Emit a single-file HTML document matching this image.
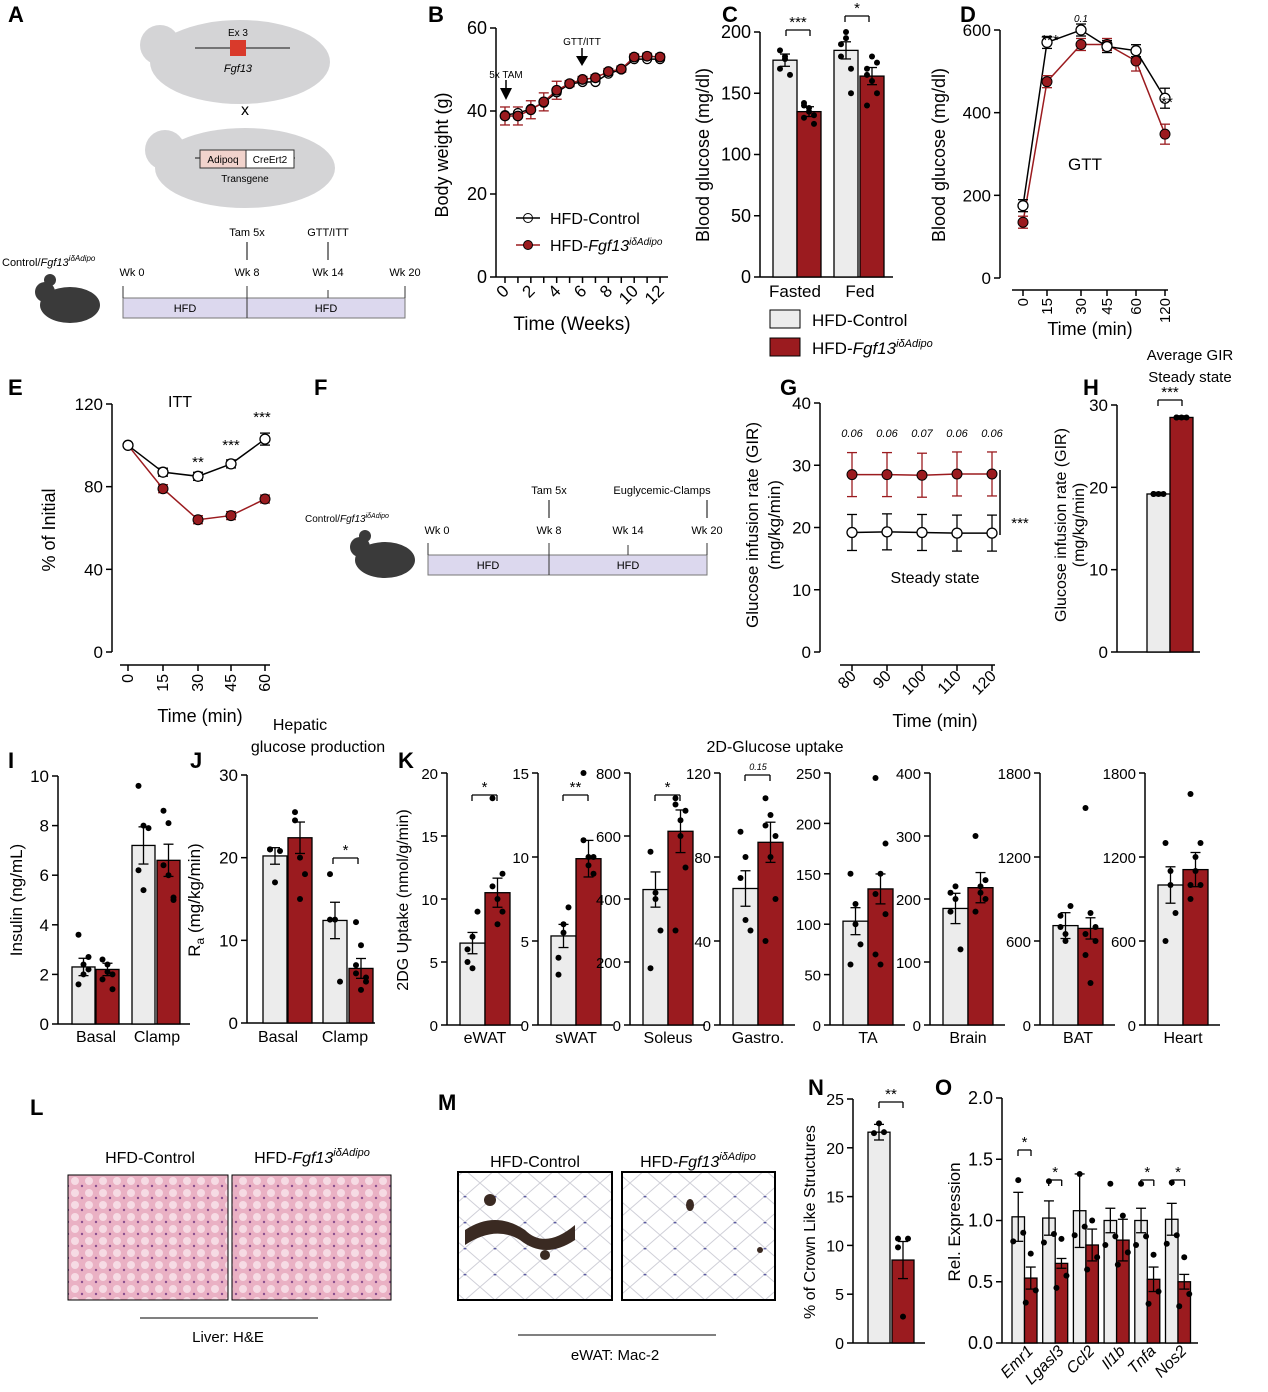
<!DOCTYPE html>
<html><head><meta charset="utf-8"><style>
html,body{margin:0;padding:0;background:#fff}
svg{display:block;font-family:"Liberation Sans",Arial,sans-serif}
</style></head><body>
<svg id="s" width="1268" height="1392" viewBox="0 0 1268 1392" xmlns="http://www.w3.org/2000/svg">
<g font-weight="bold" font-size="22">
<text x="8" y="22">A</text><text x="428" y="22">B</text><text x="722" y="22">C</text><text x="960" y="22">D</text>
<text x="8" y="395">E</text><text x="314" y="395">F</text><text x="780" y="395">G</text><text x="1083" y="395">H</text>
<text x="8" y="768">I</text><text x="190" y="768">J</text><text x="398" y="768">K</text>
<text x="30" y="1115">L</text><text x="438" y="1110">M</text><text x="808" y="1095">N</text><text x="935" y="1095">O</text>
</g>
<!-- Panel A -->
<g fill="#d4d4d6">
<ellipse cx="240" cy="62" rx="90" ry="42"/><circle cx="160" cy="45" r="20"/>
<ellipse cx="245" cy="168" rx="90" ry="40"/><circle cx="165" cy="150" r="20"/>
</g>
<g stroke="#555" stroke-width="1.5" fill="none"><line x1="195" y1="48" x2="290" y2="48"/><line x1="195" y1="158" x2="295" y2="158"/></g>
<rect x="230" y="40" width="16" height="16" fill="#d93a2b"/>
<text x="238" y="36" font-size="10" text-anchor="middle">Ex 3</text>
<text x="238" y="72" font-size="11" font-style="italic" text-anchor="middle">Fgf13</text>
<text x="245" y="115" font-size="16" text-anchor="middle">x</text>
<rect x="200" y="150" width="46" height="18" fill="#f1d3cc" stroke="#333"/><rect x="246" y="150" width="48" height="18" fill="#fff" stroke="#333"/>
<text x="223" y="163" font-size="10" text-anchor="middle">Adipoq</text><text x="270" y="163" font-size="10" text-anchor="middle">CreErt2</text>
<text x="245" y="182" font-size="10" text-anchor="middle">Transgene</text>
<text x="2" y="266" font-size="11">Control/<tspan font-style="italic">Fgf13</tspan><tspan font-size="8" dy="-5" font-style="italic">iδAdipo</tspan></text>
<g fill="#3a3a3a"><ellipse cx="70" cy="305" rx="30" ry="18"/><circle cx="45" cy="292" r="10"/><circle cx="50" cy="280" r="6"/></g>
<rect x="123" y="298" width="282" height="20" fill="#dcd8ee" stroke="#777"/><line x1="247" y1="286" x2="247" y2="318" stroke="#333"/><line x1="123" y1="286" x2="123" y2="298" stroke="#333"/><line x1="328" y1="290" x2="328" y2="298" stroke="#333"/><line x1="405" y1="286" x2="405" y2="298" stroke="#333"/>
<g font-size="11" text-anchor="middle"><text x="185" y="312">HFD</text><text x="326" y="312">HFD</text>
<text x="132" y="276">Wk 0</text><text x="247" y="276">Wk 8</text><text x="328" y="276">Wk 14</text><text x="405" y="276">Wk 20</text>
<text x="247" y="236">Tam 5x</text><text x="328" y="236">GTT/ITT</text></g>
<g stroke="#000"><line x1="247" y1="242" x2="247" y2="260"/><line x1="328" y1="242" x2="328" y2="260"/></g>
<!-- Panel F timeline -->
<text x="305" y="522" font-size="10">Control/<tspan font-style="italic">Fgf13</tspan><tspan font-size="7" dy="-4" font-style="italic">iδAdipo</tspan></text>
<g fill="#3a3a3a"><ellipse cx="385" cy="560" rx="30" ry="18"/><circle cx="360" cy="547" r="10"/><circle cx="365" cy="536" r="6"/></g>
<rect x="428" y="555" width="279" height="20" fill="#dcd8ee" stroke="#777"/><line x1="549" y1="543" x2="549" y2="575" stroke="#333"/><line x1="428" y1="543" x2="428" y2="555" stroke="#333"/><line x1="628" y1="545" x2="628" y2="555" stroke="#333"/><line x1="707" y1="543" x2="707" y2="555" stroke="#333"/>
<g font-size="11" text-anchor="middle"><text x="488" y="569">HFD</text><text x="628" y="569">HFD</text>
<text x="437" y="534">Wk 0</text><text x="549" y="534">Wk 8</text><text x="628" y="534">Wk 14</text><text x="707" y="534">Wk 20</text>
<text x="549" y="494">Tam 5x</text><text x="662" y="494">Euglycemic-Clamps</text></g>
<g stroke="#000"><line x1="549" y1="500" x2="549" y2="518"/><line x1="707" y1="500" x2="707" y2="518"/></g>
<!-- L images -->
<defs><pattern id="liv" width="14" height="12" patternUnits="userSpaceOnUse"><rect width="14" height="12" fill="#eab1c4"/><circle cx="5" cy="5" r="4" fill="#f6dbe4"/><circle cx="12" cy="10" r="1.2" fill="#8a4f8f"/></pattern>
<pattern id="wat" width="30" height="26" patternUnits="userSpaceOnUse"><rect width="30" height="26" fill="#fff"/><path d="M0 13 L15 0 L30 13 L15 26 Z" fill="none" stroke="#cfcfd8" stroke-width="1"/><circle cx="15" cy="0" r="1.5" fill="#5a5aa0"/></pattern></defs>
<g font-size="16" text-anchor="middle"><text x="150" y="1163">HFD-Control</text><text x="312" y="1163">HFD-<tspan font-style="italic">Fgf13</tspan><tspan font-size="11" dy="-7" font-style="italic">iδAdipo</tspan></text>
<text x="535" y="1167">HFD-Control</text><text x="698" y="1167">HFD-<tspan font-style="italic">Fgf13</tspan><tspan font-size="11" dy="-7" font-style="italic">iδAdipo</tspan></text></g>
<rect x="68" y="1175" width="160" height="125" fill="url(#liv)" stroke="#000"/><rect x="232" y="1175" width="159" height="125" fill="url(#liv)" stroke="#000"/>
<rect x="458" y="1172" width="154" height="128" fill="url(#wat)" stroke="#000" stroke-width="2"/><rect x="622" y="1172" width="153" height="128" fill="url(#wat)" stroke="#000" stroke-width="2"/>
<g fill="#3a2a22"><path d="M465 1230 q30 -20 60 0 q20 20 50 -5 l0 15 q-30 20 -55 0 q-25 -15 -55 5z"/><circle cx="490" cy="1200" r="6"/><circle cx="545" cy="1255" r="5"/><ellipse cx="690" cy="1205" rx="4" ry="6"/><circle cx="760" cy="1250" r="3"/></g>
<line x1="140" y1="1318" x2="318" y2="1318" stroke="#000"/><text x="228" y="1342" font-size="15" text-anchor="middle">Liver: H&amp;E</text>
<line x1="518" y1="1335" x2="716" y2="1335" stroke="#000"/><text x="615" y="1360" font-size="15" text-anchor="middle">eWAT: Mac-2</text>
<g id="dyn"></g>
</svg>
<script>
var R="#9b1b1f",G="#ececec";
var g=document.getElementById('dyn'),NS="http://www.w3.org/2000/svg";
function el(t,a,txt){var e=document.createElementNS(NS,t);for(var k in a)e.setAttribute(k,a[k]);if(txt!=null)e.textContent=txt;g.appendChild(e);return e;}
function ln(x1,y1,x2,y2,c,w){el('line',{x1:x1,y1:y1,x2:x2,y2:y2,stroke:c||'#000','stroke-width':w||1.5});}
function tx(x,y,s,fs,anc,extra){var a={x:x,y:y,'font-size':fs||15,'text-anchor':anc||'middle'};for(var k in extra)a[k]=extra[k];return el('text',a,s);}
function yaxis(x,y0,y1,vals,fs){ln(x,y0,x,y1);var n=vals.length;for(var i=0;i<n;i++){var y=y0+(y1-y0)*i/(n-1);ln(x-6,y,x,y);tx(x-9,y+6,vals[i],fs||15,'end');}}
function ylab(x,y,s,fs){var t=tx(x,y,s,fs||16,'middle',{transform:'rotate(-90 '+x+' '+y+')'});return t;}
function bar(x,w,yt,y0,f){el('rect',{x:x,y:yt,width:w,height:y0-yt,fill:f,stroke:'#000','stroke-width':1.3});}
function err(xc,yv,e,c){ln(xc,yv-e,xc,yv+e,c||'#000',1.3);ln(xc-5,yv-e,xc+5,yv-e,c||'#000',1.3);ln(xc-5,yv+e,xc+5,yv+e,c||'#000',1.3);}
function dot(x,y,f){el('circle',{cx:x,cy:y,r:3,fill:f||'#000'});}
function star(x1,x2,y,s,fs){ln(x1,y,x2,y,'#000',1.3);ln(x1,y,x1,y+6,'#000',1.3);ln(x2,y,x2,y+6,'#000',1.3);tx((x1+x2)/2,y-3,s,fs||15);}
function pair(xa,w,y0,sc,v1,v2,e1,e2,d1,d2,gap){
  gap=gap||0;var ya=y0-v1*sc,yb=y0-v2*sc;bar(xa,w,ya,y0,G);bar(xa+w+gap,w,yb,y0,R);
  err(xa+w/2,ya,e1*sc);err(xa+1.5*w+gap,yb,e2*sc);
  (d1||[]).forEach(function(v,i){dot(xa+w/2+((i%3)-1)*5,y0-v*sc);});
  (d2||[]).forEach(function(v,i){dot(xa+1.5*w+gap+((i%3)-1)*5,y0-v*sc);});
}
// ---- B
yaxis(496,277,28,['0','20','40','60'],18);ylab(448,155,'Body weight (g)',18);
ln(496,277,668,277);
var bx=[];for(var i=0;i<13;i++)bx.push(505+i*12.92);
bx.forEach(function(x,i){ln(x,277,x,283);if(i%2==0){tx(x+5,292,''+i,17,'end',{transform:'rotate(-45 '+(x+5)+' 292)'});}});
tx(572,330,'Time (Weeks)',19);
var bc=[39,39.5,40.5,42,44.5,46.5,47,47,49,50,52.5,52.5,52.5],br=[38.8,38.8,40.3,42.2,45,46.6,47.6,48,49.5,50.1,53,53.2,53];
function by(v){return 277-v*4.15;}
var p1='',p2='';bx.forEach(function(x,i){p1+=(i?'L':'M')+x+' '+by(bc[i]);p2+=(i?'L':'M')+x+' '+by(br[i]);});
el('path',{d:p1,fill:'none',stroke:'#000','stroke-width':1.5});el('path',{d:p2,fill:'none',stroke:R,'stroke-width':1.5});
bx.forEach(function(x,i){err(x,by(br[i]),i<5?9:3,R);el('circle',{cx:x,cy:by(bc[i]),r:4.5,fill:'#fff',stroke:'#000','stroke-width':1.3});el('circle',{cx:x,cy:by(br[i]),r:4.8,fill:R,stroke:'#000','stroke-width':1.2});});
tx(506,78,'5x TAM',10);el('path',{d:'M500 88 L512 88 L506 100 Z',fill:'#000'});ln(506,80,506,92);
tx(582,45,'GTT/ITT',10);el('path',{d:'M576 56 L588 56 L582 66 Z',fill:'#000'});ln(582,48,582,58);
el('circle',{cx:528,cy:218,r:4.5,fill:'#fff',stroke:'#000'});ln(516,218,540,218);tx(550,224,'HFD-Control',16,'start');
ln(516,245,540,245,R);el('circle',{cx:528,cy:245,r:4.5,fill:R,stroke:'#000'});
var t=tx(550,251,'HFD-',16,'start');t.innerHTML='HFD-<tspan font-style="italic">Fgf13</tspan><tspan font-size="10" dy="-6" font-style="italic">iδAdipo</tspan>';
// ---- C
yaxis(760,277,32,['0','50','100','150','200'],18);ylab(709,155,'Blood glucose (mg/dl)',18);ln(760,277,893,277);
pair(773,24,277,1.225,177,135,5,4,[170,180,165,185,178],[130,138,125,140,135,132,142],0);
pair(834,24,277,1.225,185,164,7,7,[190,200,150,180,195,170],[170,180,150,140,160,175,165],2);
star(786,810,30,'***');star(845,869,16,'*');
tx(795,297,'Fasted',17);tx(860,297,'Fed',17);
el('rect',{x:770,y:310,width:30,height:18,fill:G,stroke:'#000'});tx(812,326,'HFD-Control',17,'start');
el('rect',{x:770,y:338,width:30,height:18,fill:R,stroke:'#000'});var t2=tx(812,354,'',17,'start');t2.innerHTML='HFD-<tspan font-style="italic">Fgf13</tspan><tspan font-size="11" dy="-7" font-style="italic">iδAdipo</tspan>';
// ---- D
yaxis(1000,278,30,['0','200','400','600'],17);ylab(945,155,'Blood glucose (mg/dl)',18);
ln(1012,290,1168,290);
var dx=[1023,1047,1081,1107,1136,1165],dl=['0','15','30','45','60','120'];
dx.forEach(function(x,i){ln(x,290,x,296);tx(x+5,298,dl[i],15,'end',{transform:'rotate(-90 '+(x+5)+' 298)'});});
tx(1090,335,'Time (min)',18);tx(1085,170,'GTT',17);
function dy(v){return 278-v*0.4133;}
var dc=[175,570,600,560,550,435],dr=[135,475,565,565,525,348];
var q1='',q2='';dx.forEach(function(x,i){q1+=(i?'L':'M')+x+' '+dy(dc[i]);q2+=(i?'L':'M')+x+' '+dy(dr[i]);});
el('path',{d:q2,fill:'none',stroke:R,'stroke-width':1.5});el('path',{d:q1,fill:'none',stroke:'#000','stroke-width':1.5});
dx.forEach(function(x,i){err(x,dy(dc[i]),i==5?10:6);err(x,dy(dr[i]),i>3?10:6,R);el('circle',{cx:x,cy:dy(dr[i]),r:5,fill:R,stroke:'#000'});el('circle',{cx:x,cy:dy(dc[i]),r:5,fill:'#fff',stroke:'#000','stroke-width':1.3});});
tx(1050,45,'***',15);tx(1081,22,'0.1',10,'middle',{'font-style':'italic'});tx(1167,107,'**',15);
// ---- E
yaxis(112,652,404,['0','40','80','120'],17);ylab(55,530,'% of Initial',18);
ln(120,665,270,665);var ex=[128,163,198,231,265],el2=['0','15','30','45','60'];
ex.forEach(function(x,i){ln(x,665,x,671);tx(x+5,674,el2[i],16,'end',{transform:'rotate(-90 '+(x+5)+' 674)'});});
tx(200,722,'Time (min)',18);tx(180,407,'ITT',16);
function ey(v){return 652-v*2.067;}
var ec=[100,87,85,91,103],er=[100,79,64,66,74];
var r1='',r2='';ex.forEach(function(x,i){r1+=(i?'L':'M')+x+' '+ey(ec[i]);r2+=(i?'L':'M')+x+' '+ey(er[i]);});
el('path',{d:r2,fill:'none',stroke:R,'stroke-width':1.5});el('path',{d:r1,fill:'none',stroke:'#000','stroke-width':1.5});
ex.forEach(function(x,i){if(i){err(x,ey(ec[i]),i==4?6:4);err(x,ey(er[i]),4,R);}el('circle',{cx:x,cy:ey(er[i]),r:5,fill:R,stroke:'#000'});el('circle',{cx:x,cy:ey(ec[i]),r:5,fill:'#fff',stroke:'#000','stroke-width':1.3});});
tx(198,467,'**',15);tx(231,450,'***',15);tx(262,422,'***',15);
// ---- G
yaxis(820,652,403,['0','10','20','30','40'],17);ylab(758,525,'Glucose infusion rate (GIR)',17);ylab(780,525,'(mg/kg/min)',17);
ln(840,665,995,665);var gx=[852,887,922,957,992],gl=['80','90','100','110','120'];
gx.forEach(function(x,i){ln(x,665,x,671);tx(x+5,677,gl[i],16,'end',{transform:'rotate(-45 '+(x+5)+' 677)'});});
tx(935,727,'Time (min)',18);tx(935,583,'Steady state',16);
var gr=[28.5,28.5,28.4,28.6,28.6],gc=[19.2,19.3,19.2,19.1,19.1];
function gy(v){return 652-v*6.225;}
var s1='',s2='';gx.forEach(function(x,i){s1+=(i?'L':'M')+x+' '+gy(gc[i]);s2+=(i?'L':'M')+x+' '+gy(gr[i]);});
el('path',{d:s2,fill:'none',stroke:R,'stroke-width':1.5});el('path',{d:s1,fill:'none',stroke:'#000','stroke-width':1.5});
var gv=['0.06','0.06','0.07','0.06','0.06'];
gx.forEach(function(x,i){err(x,gy(gr[i]),22,R);err(x,gy(gc[i]),18);el('circle',{cx:x,cy:gy(gr[i]),r:5,fill:R,stroke:'#000'});el('circle',{cx:x,cy:gy(gc[i]),r:5,fill:'#fff',stroke:'#000','stroke-width':1.3});tx(x,437,gv[i],11,'middle',{'font-style':'italic'});});
ln(1000,470,1000,535);tx(1020,528,'***',15);
// ---- H
tx(1190,360,'Average GIR',15);tx(1190,382,'Steady state',15);
yaxis(1117,652,405,['0','10','20','30'],17);ylab(1066,525,'Glucose infusion rate (GIR)',16);ylab(1084,525,'(mg/kg/min)',16);
ln(1117,652,1200,652);
pair(1147,23,652,8.23,19.2,28.5,0.2,0.2,[19.2,19.2,19.2,19.2],[28.5,28.5,28.5,28.5]);
star(1158,1182,400,'***');
// ---- I
yaxis(58,1024,776,['0','2','4','6','8','10'],17);ylab(22,900,'Insulin (ng/mL)',17);ln(58,1024,190,1024);
pair(72,23,1024,24.8,2.3,2.2,0.35,0.25,[1.6,2.0,2.7,3.6,2.4,2.2],[1.8,2.4,2.0,2.6,2.1,1.4],1);
pair(132,23,1024,24.8,7.2,6.6,0.75,0.65,[9.6,5.4,7.9,6.2,8.0],[8.6,8.1,5.0,6.4,6.0,5.1],2);
tx(96,1042,'Basal',16);tx(157,1042,'Clamp',16);
// ---- J
tx(300,730,'Hepatic',16);tx(318,752,'glucose production',16);
yaxis(247,1023,775,['0','10','20','30'],17);ylab(200,900,'R',17).innerHTML='R<tspan font-size="12" dy="4">a</tspan><tspan dy="-4"> (mg/kg/min)</tspan>';
ln(247,1023,375,1023);
pair(263,24,1023,8.27,20.2,22.4,1.0,1.9,[21,17,20.8,21],[25.5,20,18,24.5,15],1);
pair(323,24,1023,8.27,12.4,6.6,2.2,1.2,[18,12.5,5,12.5],[12.2,9.4,5,6,4,5.5,7],2);
star(333,358,858,'*');tx(278,1042,'Basal',16);tx(345,1042,'Clamp',16);
// ---- K
tx(775,752,'2D-Glucose uptake',16);ylab(408,900,'2DG Uptake (nmol/g/min)',16);
var K=[[447,['0','5','10','15','20'],20,6.5,10.5,'eWAT',[5,7,9,6,4.5],[18,10,9,11,8,12],'*'],
[538,['0','5','10','15'],15,5.3,9.9,'sWAT',[4,6,7,3,5.5],[15,10,9,11,9.5,10],'**'],
[630,['0','200','400','600','800'],800,430,615,'Soleus',[550,420,300,180,400],[700,650,500,300,600,680,720],'*'],
[720,['0','40','80','120'],120,65,87,'Gastro.',[92,50,45,70,80],[108,80,60,40,100,90,95],'0.15'],
[830,['0','50','100','150','200','250'],250,103,135,'TA',[150,120,80,60,100],[245,150,110,70,60,180,130],''],
[930,['0','100','200','300','400'],400,185,218,'Brain',[210,200,120,180,220],[300,220,200,180,210,230],''],
[1040,['0','600','1200','1800'],1800,710,690,'BAT',[780,650,850,700,600],[1550,800,600,500,300,700,650],''],
[1145,['0','600','1200','1800'],1800,1000,1110,'Heart',[1300,1100,800,600,1000],[1650,1200,1000,900,1100,1300,1000],'']];
K.forEach(function(k){var x=k[0];yaxis(x,1025,773,k[1],15);ln(x,1025,x+75,1025);var sc=252/k[2];
  pair(x+13,25,1025,sc,k[3],k[4],k[3]*0.13,k[4]*0.11,k[6],k[7]);
  tx(x+38,1043,k[5],16);
  if(k[8]=='0.15'){star(x+25,x+50,775,'',10);tx(x+38,770,'0.15',9,'middle',{'font-style':'italic'});}
  else if(k[8])star(x+25,x+50,795,k[8]);});
// ---- N
yaxis(853,1343,1099,['0','5','10','15','20','25'],16);ylab(815,1222,'% of Crown Like Structures',16);ln(853,1343,925,1343);
pair(868,22,1343,9.76,21.6,8.5,0.8,1.9,[21.5,22.5,21.6],[10.7,2.7,10.7,9.8],2);star(879,903,1102,'**');
// ---- O
yaxis(1002,1343,1098,['0.0','0.5','1.0','1.5','2.0'],18);ylab(960,1222,'Rel. Expression',17);ln(1002,1343,1198,1343);
var og=['Emr1','Lgasl3','Ccl2','Il1b','Tnfa','Nos2'],ogv=[1.03,1.02,1.08,1.0,1.0,1.01],orv=[0.53,0.65,0.8,0.84,0.52,0.5],ost=['*','*','','','*','*'];
var oe=[0.2,0.14,0.3,0.1,0.1,0.13],oe2=[0.09,0.04,0.13,0.17,0.1,0.06];
og.forEach(function(n,i){var xa=1012+i*30.7;pair(xa,12.5,1343,122.5,ogv[i],orv[i],oe[i],oe2[i],[ogv[i]-0.2,ogv[i]+0.3,ogv[i]-0.13],[orv[i]-0.2,orv[i]+0.2,orv[i]-0.1]);
  if(ost[i])star(xa+6,xa+19,1150+(i==1||i==4||i==5?30:0),ost[i]);tx(xa+22,1352,n,16,'end',{transform:'rotate(-45 '+(xa+22)+' 1352)','font-style':'italic'});});
</script>
</body></html>
